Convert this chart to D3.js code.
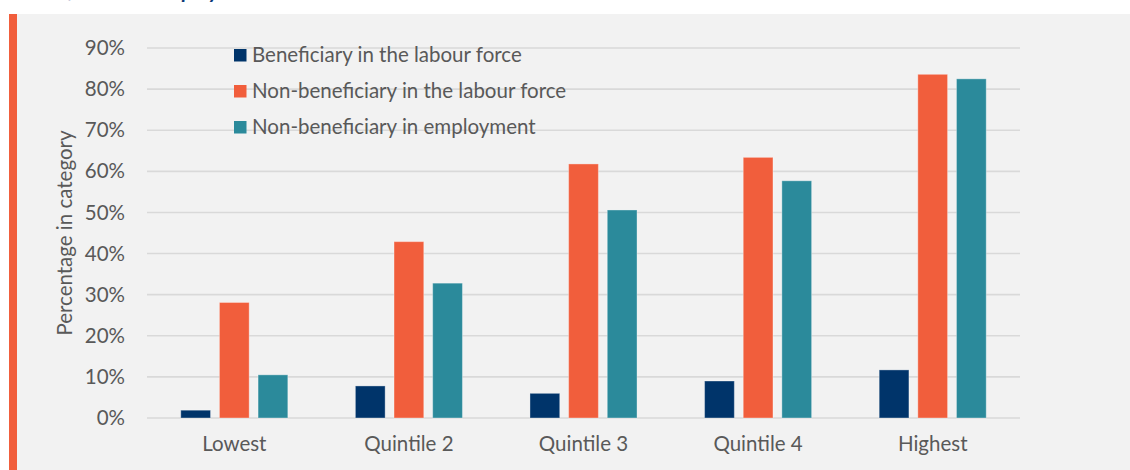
<!DOCTYPE html>
<html>
<head>
<meta charset="utf-8">
<script src="https://cdn.jsdelivr.net/npm/d3@7"></script>
<style>
  html, body { margin: 0; padding: 0; background: #ffffff; }
  svg { display: block; }
  text { font-family: "Lato", "Open Sans", sans-serif; }
</style>
</head>
<body>
<svg id="chart" width="1130" height="470"></svg>
<script>
// Income quintiles along the x axis
const categories = ["Lowest", "Quintile 2", "Quintile 3", "Quintile 4", "Highest"];

// Series names (legend order)
const seriesNames = [
  "Beneficiary in the labour force",
  "Non-beneficiary in the labour force",
  "Non-beneficiary in employment"
];

// Percentages by quintile for each series
const beneficiaryLabourForce    = [1.9, 7.8, 6.0, 9.0, 11.7];
const nonBeneficiaryLabourForce = [28.1, 42.9, 61.8, 63.4, 83.6];
const nonBeneficiaryEmployment  = [10.5, 32.8, 50.6, 57.7, 82.5];

// y axis ticks (percent)
const yTicks = [0, 10, 20, 30, 40, 50, 60, 70, 80, 90];

const seriesValues = [beneficiaryLabourForce, nonBeneficiaryLabourForce, nonBeneficiaryEmployment];
const colors = ["#00346a", "#f15e3c", "#2b8a9b"];
const FONT = 20.5;

const svg = d3.select("#chart");
const W = 1130, H = 470;

// Heading (runs off the top of the frame)
svg.append("text")
  .attr("x", -19).attr("y", -2)
  .attr("fill", "#0c3a78")
  .attr("font-size", 21)
  .attr("font-weight", 700)
  .attr("font-style", "italic")
  .text("by labour force and employment status");

// Panel background and accent strip
svg.append("rect").attr("x", 9).attr("y", 14).attr("width", W - 9).attr("height", H - 14).attr("fill", "#f2f2f2");
svg.append("rect").attr("x", 9).attr("y", 14).attr("width", 8).attr("height", H - 14).attr("fill", "#f15e3c");

const plot = { left: 147, right: 1020, top: 48, bottom: 418 };

const y = d3.scaleLinear().domain([0, 90]).range([plot.bottom, plot.top]);

const x0 = d3.scaleBand()
  .domain(categories)
  .range([plot.left, plot.right])
  .paddingInner(0.336)
  .paddingOuter(0.168);

const x1 = d3.scaleBand()
  .domain(d3.range(seriesNames.length))
  .range([0, x0.bandwidth()])
  .paddingInner(0.23)
  .paddingOuter(0.115);

// Gridlines
svg.append("g")
  .selectAll("line")
  .data(yTicks)
  .join("line")
  .attr("x1", plot.left).attr("x2", plot.right)
  .attr("y1", d => y(d)).attr("y2", d => y(d))
  .attr("stroke", "#d9d9d9")
  .attr("stroke-width", 1.6);

// y axis labels
const yAxis = d3.axisLeft(y).tickValues(yTicks).tickFormat(d => d + "%").tickSize(0).tickPadding(0);
const yg = svg.append("g").attr("transform", `translate(${plot.left - 22},0)`).call(yAxis);
yg.select(".domain").remove();
yg.selectAll("text")
  .attr("font-size", FONT)
  .attr("fill", "#595959")
  .attr("font-family", "Lato, 'Open Sans', sans-serif");

// x axis labels
const xAxis = d3.axisBottom(x0).tickSize(0).tickPadding(0);
const xg = svg.append("g").attr("transform", `translate(0,${plot.bottom + 18})`).call(xAxis);
xg.select(".domain").remove();
xg.selectAll("text")
  .attr("font-size", FONT)
  .attr("fill", "#595959")
  .attr("font-family", "Lato, 'Open Sans', sans-serif");

// Bars
const groups = svg.append("g")
  .selectAll("g")
  .data(categories)
  .join("g")
  .attr("transform", d => `translate(${x0(d)},0)`);

groups.selectAll("rect")
  .data((c, ci) => seriesValues.map((vals, si) => ({ si, v: vals[ci] })))
  .join("rect")
  .attr("x", d => x1(d.si))
  .attr("width", x1.bandwidth())
  .attr("y", d => y(d.v))
  .attr("height", d => y(0) - y(d.v))
  .attr("fill", d => colors[d.si])
  .attr("stroke", "#ffffff")
  .attr("stroke-opacity", 0.35)
  .attr("stroke-width", 1);

// Legend
const legend = svg.append("g").attr("transform", "translate(234,55)");
const item = legend.selectAll("g")
  .data(seriesNames)
  .join("g")
  .attr("transform", (d, i) => `translate(0,${i * 36})`);
item.append("rect")
  .attr("x", 0).attr("y", -6)
  .attr("width", 12.5).attr("height", 12.5)
  .attr("fill", (d, i) => colors[i]);
item.append("text")
  .attr("x", 18).attr("y", 0)
  .attr("dy", "0.35em")
  .attr("font-size", FONT)
  .attr("fill", "#595959")
  .text(d => d);

// y axis title
svg.append("text")
  .attr("transform", `translate(65,${(plot.top + plot.bottom) / 2}) rotate(-90)`)
  .attr("text-anchor", "middle")
  .attr("dy", "0.35em")
  .attr("font-size", FONT)
  .attr("fill", "#595959")
  .text("Percentage in category");
</script>
</body>
</html>
